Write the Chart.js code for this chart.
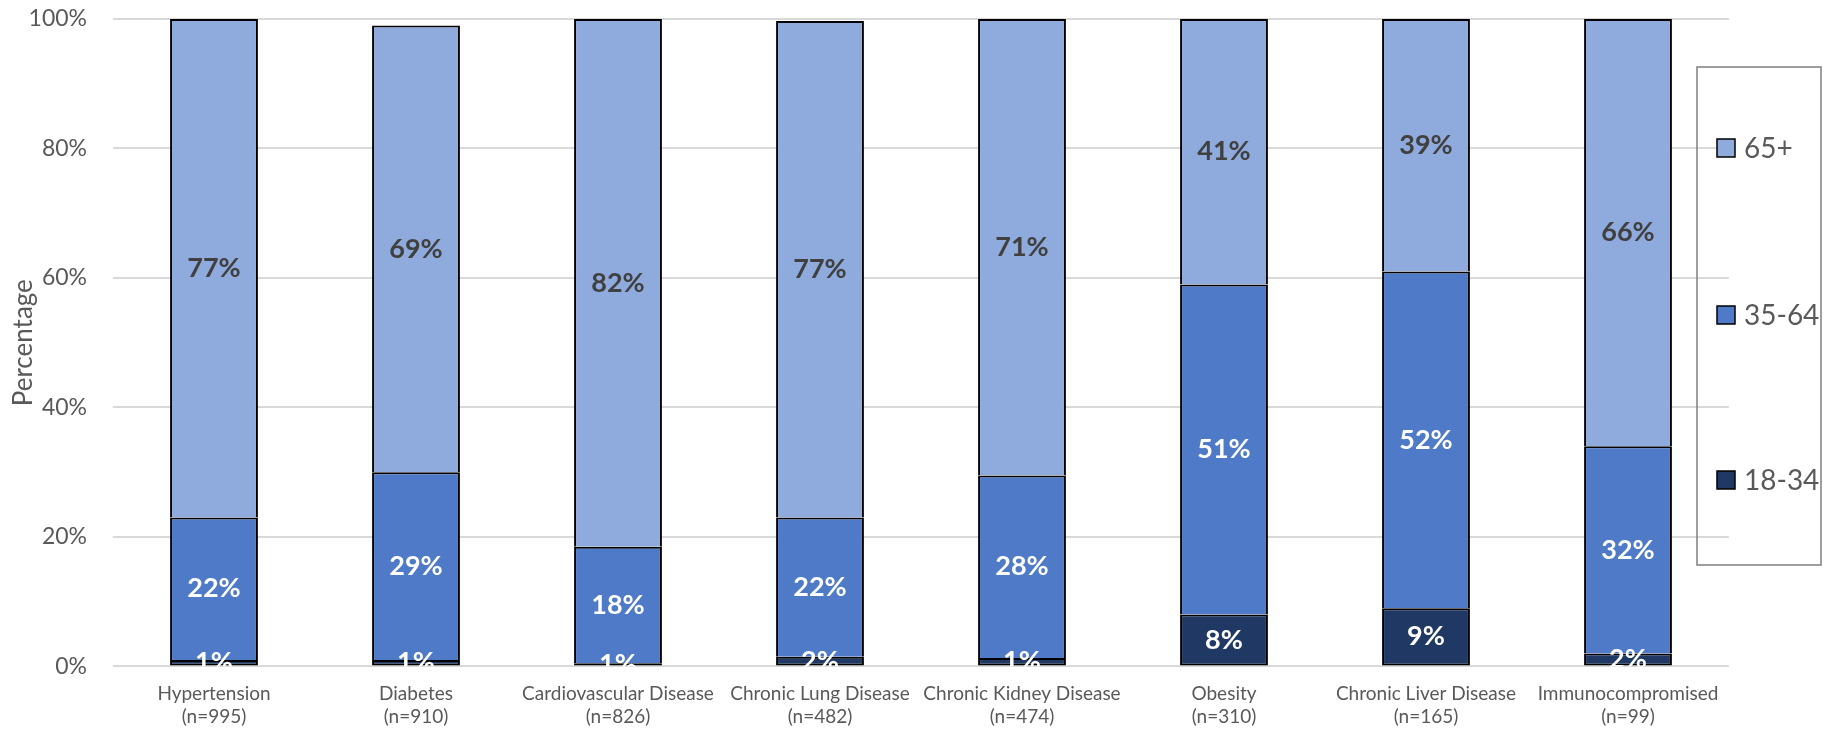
<!DOCTYPE html>
<html>
<head>
<meta charset="utf-8">
<script src="https://cdn.jsdelivr.net/npm/chart.js@4"></script>
<style>
  body { margin: 0; background: #fff; }
  canvas { display: block; }
</style>
</head>
<body>
<canvas id="ageChart" width="1842" height="734"></canvas>
<script>
// categories (two-line labels)
var conditions = [
  ['Hypertension', '(n=995)'],
  ['Diabetes', '(n=910)'],
  ['Cardiovascular Disease', '(n=826)'],
  ['Chronic Lung Disease', '(n=482)'],
  ['Chronic Kidney Disease', '(n=474)'],
  ['Obesity', '(n=310)'],
  ['Chronic Liver Disease', '(n=165)'],
  ['Immunocompromised', '(n=99)']
];

// percentages per age group
var age18to34 = [1, 1, 0.5, 1.5, 1.3, 8, 9, 2];
var age35to64 = [22, 29, 18, 21.5, 28.2, 51, 52, 32];
var age65plus = [77, 69, 81.5, 76.7, 70.5, 41, 39, 66];

var yTicks = [0, 20, 40, 60, 80, 100];

var FONT = 'Lato, "Open Sans", sans-serif';

// percent labels inside each segment
var segmentLabels = {
  id: 'segmentLabels',
  afterDatasetsDraw: function(chart) {
    var ctx = chart.ctx, area = chart.chartArea;
    ctx.save();
    ctx.beginPath();
    ctx.rect(area.left, area.top, area.right - area.left, area.bottom - area.top);
    ctx.clip();
    ctx.font = 'bold 27px ' + FONT;
    ctx.textAlign = 'center';
    ctx.textBaseline = 'middle';
    chart.data.datasets.forEach(function(ds, i) {
      var meta = chart.getDatasetMeta(i);
      meta.data.forEach(function(bar, j) {
        var mid = (bar.y + bar.base) / 2;
        ctx.fillStyle = ds.labelColor;
        ctx.fillText(Math.round(ds.data[j]) + '%', bar.x, mid);
      });
    });
    ctx.restore();
  }
};

// boxed legend on the right, top item = last dataset
var boxLegend = {
  id: 'boxLegend',
  afterDraw: function(chart) {
    var ctx = chart.ctx;
    var left = 1697, top = 67, right = 1821, bottom = 565;
    ctx.save();
    ctx.strokeStyle = '#7f7f7f';
    ctx.lineWidth = 1.5;
    ctx.strokeRect(left, top, right - left, bottom - top);
    var rows = [148, 315, 480];
    var sets = chart.data.datasets.slice().reverse();
    ctx.font = '28px ' + FONT;
    ctx.textBaseline = 'middle';
    ctx.textAlign = 'left';
    sets.forEach(function(ds, k) {
      var y = rows[k];
      ctx.fillStyle = ds.backgroundColor;
      ctx.fillRect(1717, y - 9, 18, 18);
      ctx.strokeStyle = '#000';
      ctx.lineWidth = 1.5;
      ctx.strokeRect(1717, y - 9, 18, 18);
      ctx.fillStyle = '#595959';
      ctx.fillText(ds.label, 1744, y + 1);
    });
    ctx.restore();
  }
};

var ctx = document.getElementById('ageChart').getContext('2d');
var ageChart = new Chart(ctx, {
  type: 'bar',
  data: {
    labels: conditions,
    datasets: [
      { label: '18-34', data: age18to34, backgroundColor: '#203864', labelColor: '#ffffff', borderSkipped: false },
      { label: '35-64', data: age35to64, backgroundColor: '#4e7ac7', labelColor: '#ffffff', borderSkipped: 'bottom' },
      { label: '65+', data: age65plus, backgroundColor: '#8faadc', labelColor: '#404040', borderSkipped: 'bottom' }
    ]
  },
  options: {
    responsive: false,
    devicePixelRatio: 1,
    animation: false,
    datasets: {
      bar: {
        borderColor: '#000000',
        borderWidth: 2,
        categoryPercentage: 1,
        barPercentage: 0.435
      }
    },
    layout: { padding: { top: 19, right: 113, bottom: -2, left: 8 } },
    plugins: {
      legend: { display: false },
      tooltip: { enabled: false }
    },
    scales: {
      x: {
        stacked: true,
        grid: { display: false },
        border: { display: false },
        ticks: {
          color: '#595959',
          font: { family: FONT, size: 19 },
          padding: 8,
          maxRotation: 0,
          autoSkip: false
        }
      },
      y: {
        stacked: true,
        min: 0,
        max: 100,
        afterBuildTicks: function(axis) {
          axis.ticks = yTicks.map(function(v) { return { value: v }; });
        },
        afterFit: function(axis) {
          axis.width = 105;
          axis.paddingTop = 0;
          axis.paddingBottom = 0;
        },
        grid: { color: '#d9d9d9', lineWidth: 2, drawTicks: false },
        border: { display: false },
        ticks: {
          color: '#595959',
          font: { family: FONT, size: 23 },
          padding: 26,
          callback: function(v) { return v + '%'; }
        },
        title: {
          display: true,
          text: 'Percentage',
          color: '#595959',
          font: { family: FONT, size: 26 },
          padding: 0
        }
      }
    }
  },
  plugins: [segmentLabels, boxLegend]
});
</script>
</body>
</html>
